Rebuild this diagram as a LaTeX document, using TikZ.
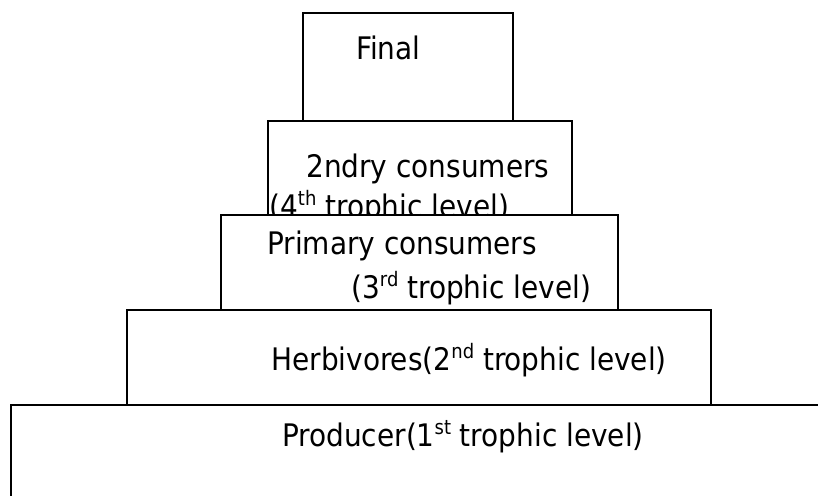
\documentclass[tikz,border=0pt]{standalone}
\usepackage{fontspec}
\setmainfont{DejaVu Sans Condensed}
\newcommand{\ordsup}[1]{\raisebox{0.38em}{\fontsize{15pt}{15pt}\selectfont #1}}
\tikzset{
  level/.style={draw=black, fill=white, line width=1pt},
  lbl/.style={anchor=base west, inner sep=0pt, font=\fontsize{23.3pt}{28pt}\selectfont}
}
\begin{document}
\begin{tikzpicture}[x=0.75pt, y=-0.75pt]
  \useasboundingbox (0,0) rectangle (818,496);
  \clip (0,0) rectangle (818,496);
  % top of the pyramid
  \path[level] (303,13) rectangle (513,121);
  \node[lbl](final) at (356,59) {Final};
  \path[level] (268,121) rectangle (572,215);
  \node[lbl](second) at (306,177) {2ndry consumers};
  \node[lbl](fourth) at (269,217) {(4\ordsup{th} trophic level)};
  \path[level] (221,215) rectangle (618,310);
  \node[lbl](primary) at (267,254) {Primary consumers};
  \node[lbl](third) at (351,298) {(3\ordsup{rd} trophic level)};
  \path[level] (127,310) rectangle (711,405);
  \node[lbl](herb) at (271,370) {Herbivores(2\ordsup{nd} trophic level)};
  % base, runs off the page
  \path[level] (11,405) rectangle (840,520);
  \node[lbl](prod) at (282,446) {Producer(1\ordsup{st} trophic level)};
\end{tikzpicture}
\end{document}
